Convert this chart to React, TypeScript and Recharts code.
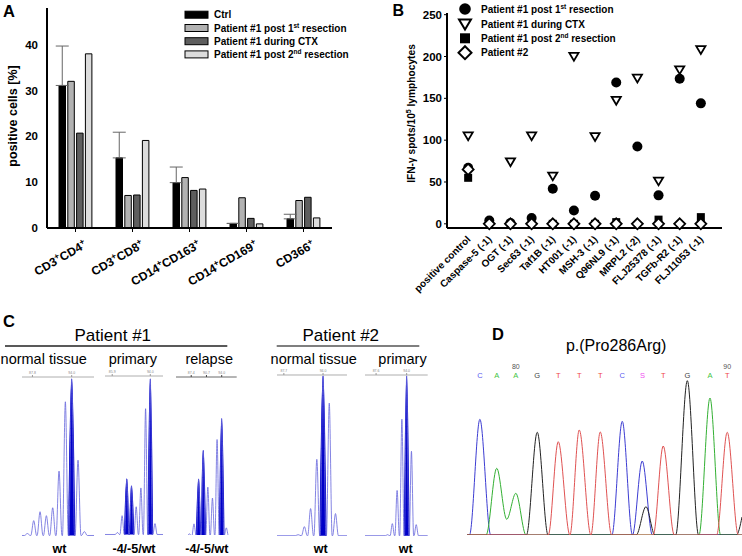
import React from 'react';
import {
  BarChart, Bar, ErrorBar, XAxis, YAxis, ScatterChart, Scatter,
  ComposedChart, Line, Area,
} from 'recharts';

const FONT = 'Arial, "Liberation Sans", Helvetica, sans-serif';

// ---------- A: % positive cells ----------
const A_CATEGORIES = ['CD3+CD4+', 'CD3+CD8+', 'CD14+CD163+', 'CD14+CD169+', 'CD366+'];
const A_CTRL = [31.1, 15.3, 9.9, 1.0, 2.0];
const A_CTRL_SD = [8.6, 5.6, 3.4, 0, 1.0];
const A_POST1 = [32.0, 7.1, 11.0, 6.6, 6.0];
const A_CTX = [20.7, 7.2, 8.2, 2.1, 6.7];
const A_POST2 = [38.0, 19.1, 8.5, 0.9, 2.2];
const A_TICKS = [0, 10, 20, 30, 40];

// ---------- B: IFN-gamma ELISpot ----------
const B_CATEGORIES = [
  'positive control', 'Caspase-5 (-1)', 'OGT (-1)', 'Sec63 (-1)', 'Taf1B (-1)', 'HT001 (-1)',
  'MSH-3 (-1)', 'Q96NL9 (-1)', 'MRPL2 (-2)', 'FLJ25378 (-1)', 'TGFb-R2 (-1)', 'FLJ11053 (-1)',
];
const B_POST1 = [67, 4, 1, 7, 42, 16, 33.5, 169, 92.5, 34, 173.5, 144];
const B_CTX = [105, null, 74, 105, 57, 200, 104, 147.5, 174, 51, 184, 208];
const B_POST2 = [55, null, null, null, 0, 0, 0, 2, null, 5, null, 8];
const B_PATIENT2 = [65, 0, 0, 0, 0, 0, 0, 0, 0, 0, 0, 0];
const B_TICKS = [0, 50, 100, 150, 200, 250];

// ---------- C: fragment analysis (size in bp, peak height) ----------
const C1_SIZE = [87, 88, 89, 90, 91, 92, 93, 94, 95, 96];
const C1_HEIGHT = [2, 15, 24, 20, 28, 65, 135, 158, 76, 4];
const C1_CALLED = [94];
const C2_SIZE = [87, 88, 89, 90, 91, 92, 93, 94, 95];
const C2_HEIGHT = [2, 19, 56, 49, 28, 47, 127, 157, 11];
const C2_CALLED = [89, 90, 94];
const C3_SIZE = [87, 88, 89, 90, 91, 92, 93, 94, 95];
const C3_HEIGHT = [2, 12, 57, 86, 49, 38, 97, 118, 8];
const C3_CALLED = [89, 90, 94];
const C4_SIZE = [90, 91, 92, 93, 94, 95, 96];
const C4_HEIGHT = [1, 9, 27, 76, 159, 132, 22];
const C4_CALLED = [94];
const C5_SIZE = [90, 91, 92, 93, 94, 95, 96];
const C5_HEIGHT = [1, 12, 45, 116, 159, 84, 11];
const C5_CALLED = [94];

// ---------- D: Sanger trace ----------
const D_CALLS = ['C', 'A', 'A', 'G', 'T', 'T', 'T', 'C', 'S', 'T', 'G', 'A', 'T'];
const D_CALL_POS = [78.08, 78.89, 79.81, 80.84, 81.85, 82.86, 83.87, 84.93, 85.9, 86.9, 88.06, 89.15, 89.98];
const D_FIRST_BASE = 78;
const D_TRACE_C = [[77.46, 0], [77.58, 0], [78.08, 115.7], [78.6, 0], [84.43, 0], [84.93, 113.7], [85.42, 0], [85.89, 74], [86.38, 0], [90.69, 0]];
const D_TRACE_A = [[77.46, 0], [78.38, 0], [78.89, 66.7], [79.37, 15.7], [79.81, 41.7], [80.3, 0], [88.62, 0], [89.15, 137], [89.66, 0], [90.69, 0]];
const D_TRACE_G = [[77.46, 0], [80.32, 0], [80.84, 102.7], [81.36, 0], [85.6, 0], [86.07, 28.3], [86.5, 0], [87.5, 0], [88.06, 154.3], [88.6, 0], [90.42, 0], [90.69, 18]];
const D_TRACE_T = [[77.46, 0], [81.37, 0], [81.85, 93.3], [82.41, 0], [82.86, 105], [83.42, 0], [83.87, 103], [84.42, 0], [86.42, 0], [86.9, 89], [87.43, 0], [89.47, 0], [89.98, 102.7], [90.51, 0], [90.69, 0]];

const A_COLORS = { ctrl: '#000000', post1: '#b2b2b2', ctx: '#5e5e5e', post2: '#dcdcdc' };
const CALL_COLORS: Record<string, string> = { C: '#5a5af0', A: '#3fc43f', G: '#444444', T: '#f04848', S: '#f050f0' };

const aData = A_CATEGORIES.map((name, i) => ({
  name,
  ctrl: A_CTRL[i],
  ctrlErr: [0, A_CTRL_SD[i]],
  post1: A_POST1[i],
  ctx: A_CTX[i],
  post2: A_POST2[i],
}));

const toPoints = (vals: (number | null)[]) =>
  vals.map((y, x) => ({ x, y })).filter((p) => p.y !== null);

function ATick(props: any) {
  const { x, y, payload } = props;
  const parts = String(payload.value).split('+');
  const nodes: any[] = [];
  parts.forEach((p, i) => {
    if (i === parts.length - 1) {
      if (p) nodes.push(<tspan key={'e' + i} dy={4.5}>{p}</tspan>);
      return;
    }
    nodes.push(<tspan key={'t' + i} dy={i === 0 ? 0 : 4.5}>{p}</tspan>);
    nodes.push(<tspan key={'s' + i} dy={-4.5} fontSize={8.5}>+</tspan>);
  });
  return (
    <text transform={`translate(${x + 12},${y + 13}) rotate(-30)`} textAnchor="end"
      fontSize={12} fontWeight="bold" fill="#000">
      {nodes}
    </text>
  );
}

function BTick(props: any) {
  const { x, y, payload } = props;
  return (
    <text transform={`translate(${x + 3},${y + 10}) rotate(-45)`} textAnchor="end"
      fontSize={10} fontWeight="bold" fill="#000">
      {B_CATEGORIES[payload.value]}
    </text>
  );
}

const dotShape = (p: any) => <circle cx={p.cx} cy={p.cy} r={5} fill="#000" />;
const triShape = (p: any) => (
  <polygon points={`${p.cx - 4.6},${p.cy - 3.6} ${p.cx + 4.6},${p.cy - 3.6} ${p.cx},${p.cy + 4.2}`}
    fill="#fff" stroke="#000" strokeWidth={1.8} />
);
const sqShape = (p: any) => <rect x={p.cx - 4} y={p.cy - 4} width={8} height={8} fill="#000" />;
const diaShape = (p: any) => (
  <polygon points={`${p.cx},${p.cy - 5.5} ${p.cx + 5.5},${p.cy} ${p.cx},${p.cy + 5.5} ${p.cx - 5.5},${p.cy}`}
    fill="#fff" stroke="#000" strokeWidth={1.8} />
);

function PanelA() {
  return (
    <div style={{ position: 'absolute', left: 0, top: 0 }}>
      <BarChart width={345} height={300} data={aData} margin={{ top: 8, right: 13, bottom: 0, left: 0 }}
        barSize={6.5} barGap={2.3}>
        <XAxis dataKey="name" height={72} interval={0} tick={<ATick />}
          axisLine={{ stroke: '#000', strokeWidth: 2 }} tickLine={{ stroke: '#000' }} tickSize={4} />
        <YAxis width={47} domain={[0, 48]} ticks={A_TICKS} tickLine={false} tickMargin={3}
          axisLine={{ stroke: '#000', strokeWidth: 2 }}
          tick={{ fontSize: 11.5, fontWeight: 'bold', fill: '#000' }} />
        <Bar dataKey="ctrl" fill={A_COLORS.ctrl} stroke="#000" isAnimationActive={false}>
          <ErrorBar dataKey="ctrlErr" width={6.5} stroke="#666" strokeWidth={1} direction="y" />
        </Bar>
        <Bar dataKey="post1" fill={A_COLORS.post1} stroke="#000" isAnimationActive={false} />
        <Bar dataKey="ctx" fill={A_COLORS.ctx} stroke="#000" isAnimationActive={false} />
        <Bar dataKey="post2" fill={A_COLORS.post2} stroke="#000" isAnimationActive={false} />
      </BarChart>
    </div>
  );
}

function PanelB() {
  return (
    <div style={{ position: 'absolute', left: 370, top: 0 }}>
      <ScatterChart width={372} height={300} margin={{ top: 13, right: 20, bottom: 0, left: 0 }}>
        <XAxis type="number" dataKey="x" domain={[-1, 12]} ticks={B_CATEGORIES.map((_, i) => i)} interval={0}
          height={72} tickLine={false} tickSize={0} tick={<BTick />}
          axisLine={{ stroke: '#000', strokeWidth: 2 }} />
        <YAxis type="number" dataKey="y" width={77} domain={[-5, 252]} ticks={B_TICKS}
          tickSize={3} tickMargin={2} tickLine={{ stroke: '#000' }}
          axisLine={{ stroke: '#000', strokeWidth: 2 }}
          tick={{ fontSize: 11.5, fontWeight: 'bold', fill: '#000' }} />
        <Scatter data={toPoints(B_POST1)} shape={dotShape} isAnimationActive={false} />
        <Scatter data={toPoints(B_CTX)} shape={triShape} isAnimationActive={false} />
        <Scatter data={toPoints(B_POST2)} shape={sqShape} isAnimationActive={false} />
        <Scatter data={toPoints(B_PATIENT2)} shape={diaShape} isAnimationActive={false} />
      </ScatterChart>
    </div>
  );
}

const HW = 0.46;

function Electro({ sizes, heights, called, domain, ticks, left, ruler, base, width, rulerColor }: any) {
  const rows: any[] = [{ x: domain[0], trace: 0, fill: null }];
  sizes.forEach((s: number, i: number) => {
    const on = called.includes(s);
    rows.push({ x: s - HW, trace: 0, fill: on ? 0 : null });
    rows.push({ x: s, trace: heights[i], fill: on ? heights[i] : null });
    rows.push({ x: s + HW, trace: 0, fill: on ? 0 : null });
  });
  rows.push({ x: domain[1], trace: 0, fill: null });
  return (
    <div style={{ position: 'absolute', left, top: ruler - 10 }}>
      <ComposedChart width={width} height={base - ruler + 10} data={rows}
        margin={{ top: 0, right: 0, bottom: 0, left: 0 }}>
        <XAxis type="number" dataKey="x" orientation="top" domain={domain} ticks={ticks} interval={0}
          height={10} tickSize={2} tickMargin={1}
          tick={{ fontSize: 3.5, fill: '#888' }} tickFormatter={(v: number) => v.toFixed(1)}
          axisLine={{ stroke: rulerColor, strokeWidth: 0.8 }} tickLine={{ stroke: rulerColor }} />
        <YAxis hide domain={[0, 160]} />
        <Line type="monotone" dataKey="trace" stroke="#6464dc" strokeWidth={0.8} dot={false}
          isAnimationActive={false} />
        <Area type="monotone" dataKey="fill" stroke="#0000c8" strokeWidth={1.4} fill="#0000c8" fillOpacity={1}
          connectNulls={false} dot={false} isAnimationActive={false} />
      </ComposedChart>
    </div>
  );
}

function PanelC() {
  return (
    <>
      <Electro sizes={C1_SIZE} heights={C1_HEIGHT} called={C1_CALLED} domain={[86.15, 97.57]} ticks={[87.8, 94]}
        left={22} ruler={377} base={535.5} width={72.3} rulerColor="#999" />
      <Electro sizes={C2_SIZE} heights={C2_HEIGHT} called={C2_CALLED} domain={[84.36, 96.77]} ticks={[85.9, 94]}
        left={105} ruler={376} base={534.5} width={58.3} rulerColor="#999" />
      <Electro sizes={C3_SIZE} heights={C3_HEIGHT} called={C3_CALLED} domain={[84.1, 97.25]} ticks={[87.4, 90.7, 94]}
        left={176} ruler={376.7} base={535.5} width={60.7} rulerColor="#444" />
      <Electro sizes={C4_SIZE} heights={C4_HEIGHT} called={C4_CALLED} domain={[86.6, 97.85]} ticks={[87.7, 94]}
        left={277.3} ruler={375} base={535.7} width={70} rulerColor="#999" />
      <Electro sizes={C5_SIZE} heights={C5_HEIGHT} called={C5_CALLED} domain={[85.28, 98.4]} ticks={[87.6, 94]}
        left={365} ruler={375} base={535.7} width={62.7} rulerColor="#999" />
    </>
  );
}

function DTick(props: any) {
  const { x, payload } = props;
  const i = D_CALL_POS.indexOf(payload.value);
  const call = D_CALLS[i];
  const num = D_FIRST_BASE + i;
  return (
    <g>
      {num % 10 === 0 && (
        <text x={x} y={28.5} textAnchor="middle" fontSize={7} fill="#555">{num}</text>
      )}
      <text x={x} y={37.8} textAnchor="middle" fontSize={7.5} fill={CALL_COLORS[call]}>{call}</text>
    </g>
  );
}

const dRows = [
  ...D_TRACE_C.map(([x, y]) => ({ x, c: y })),
  ...D_TRACE_A.map(([x, y]) => ({ x, a: y })),
  ...D_TRACE_G.map(([x, y]) => ({ x, g: y })),
  ...D_TRACE_T.map(([x, y]) => ({ x, t: y })),
];

function PanelD() {
  return (
    <div style={{ position: 'absolute', left: 467, top: 340 }}>
      <ComposedChart width={275} height={195} data={dRows} margin={{ top: 0, right: 0, bottom: 0, left: 0 }}>
        <XAxis type="number" dataKey="x" orientation="top" domain={[77.46, 90.69]} ticks={D_CALL_POS}
          interval={0} height={35} axisLine={false} tickLine={false} tick={<DTick />} />
        <YAxis hide domain={[0, 160]} />
        <Line type="monotone" dataKey="c" stroke="#3c3cd2" strokeWidth={1} dot={false} connectNulls isAnimationActive={false} />
        <Line type="monotone" dataKey="a" stroke="#33b033" strokeWidth={1} dot={false} connectNulls isAnimationActive={false} />
        <Line type="monotone" dataKey="g" stroke="#222222" strokeWidth={1} dot={false} connectNulls isAnimationActive={false} />
        <Line type="monotone" dataKey="t" stroke="#e05252" strokeWidth={1} dot={false} connectNulls isAnimationActive={false} />
      </ComposedChart>
    </div>
  );
}

function Sup({ children }: any) {
  return (
    <>
      <tspan dy={-4} fontSize={6.5}>{children}</tspan>
      <tspan dy={4}> </tspan>
    </>
  );
}

function Overlay() {
  const aRows = [
    { label: <>Ctrl</>, color: A_COLORS.ctrl },
    { label: <>Patient #1 post 1<Sup>st</Sup>resection</>, color: A_COLORS.post1 },
    { label: <>Patient #1 during CTX</>, color: A_COLORS.ctx },
    { label: <>Patient #1 post 2<Sup>nd</Sup>resection</>, color: A_COLORS.post2 },
  ];
  const aY = [14.7, 28, 41.2, 54.4];
  const bRows = [
    { label: <>Patient #1 post 1<Sup>st</Sup>resection</>, shape: 'dot' },
    { label: <>Patient #1 during CTX</>, shape: 'tri' },
    { label: <>Patient #1 post 2<Sup>nd</Sup>resection</>, shape: 'sq' },
    { label: <>Patient #2</>, shape: 'dia' },
  ];
  const bY = [9, 24, 38.3, 52.7];
  const bx = 465;
  return (
    <svg width={742} height={556} style={{ position: 'absolute', left: 0, top: 0, pointerEvents: 'none' }}
      fontFamily={FONT}>
      {/* panel letters */}
      <text x={3} y={16.7} fontSize={16.5} fontWeight="bold">A</text>
      <text x={392.5} y={16} fontSize={16} fontWeight="bold">B</text>
      <text x={3} y={326.7} fontSize={16.5} fontWeight="bold">C</text>
      <text x={492} y={340} fontSize={16.5} fontWeight="bold">D</text>

      {/* A axis title + legend */}
      <text transform="translate(16.5,116) rotate(-90)" textAnchor="middle" fontSize={12.5} fontWeight="bold">
        positive cells [%]
      </text>
      {aRows.map((r, i) => (
        <g key={i}>
          <rect x={185} y={aY[i] - 3.5} width={23} height={7} fill={r.color} stroke="#000" strokeWidth={1} />
          <text x={214} y={aY[i] + 3.6} fontSize={10} fontWeight="bold">{r.label}</text>
        </g>
      ))}

      {/* B axis title + legend */}
      <text transform="translate(414.5,113.5) rotate(-90)" textAnchor="middle" fontSize={10.2} fontWeight="bold">
        IFN-γ spots/10<tspan dy={-4} fontSize={7}>5</tspan><tspan dy={4}> lymphocytes</tspan>
      </text>
      {bRows.map((r, i) => {
        const y = bY[i];
        let m: any = null;
        if (r.shape === 'dot') m = <circle cx={bx} cy={y} r={5.8} fill="#000" />;
        if (r.shape === 'tri') m = <polygon points={`${bx - 6},${y - 4.6} ${bx + 6},${y - 4.6} ${bx},${y + 5.6}`} fill="#fff" stroke="#000" strokeWidth={2} />;
        if (r.shape === 'sq') m = <rect x={bx - 5} y={y - 5} width={10} height={10} fill="#000" />;
        if (r.shape === 'dia') m = <polygon points={`${bx},${y - 6.5} ${bx + 6.5},${y} ${bx},${y + 6.5} ${bx - 6.5},${y}`} fill="#fff" stroke="#000" strokeWidth={2} />;
        return (
          <g key={i}>
            {m}
            <text x={481} y={y + 3.6} fontSize={10} fontWeight="bold">{r.label}</text>
          </g>
        );
      })}

      {/* C headings */}
      <text x={112.8} y={341.3} textAnchor="middle" fontSize={17}>Patient #1</text>
      <line x1={5} x2={227.3} y1={346} y2={346} stroke="#222" strokeWidth={1.3} />
      <text x={340.8} y={341.3} textAnchor="middle" fontSize={17}>Patient #2</text>
      <line x1={276.7} x2={419.3} y1={346} y2={346} stroke="#555" strokeWidth={1.3} />
      <text x={43.7} y={364} textAnchor="middle" fontSize={14.5}>normal tissue</text>
      <text x={132.8} y={364} textAnchor="middle" fontSize={14.5}>primary</text>
      <text x={209.2} y={364} textAnchor="middle" fontSize={14.5}>relapse</text>
      <text x={313.7} y={364} textAnchor="middle" fontSize={14.5}>normal tissue</text>
      <text x={402.5} y={364} textAnchor="middle" fontSize={14.5}>primary</text>
      <text x={59.5} y={553} textAnchor="middle" fontSize={12.5} fontWeight="bold">wt</text>
      <text x={134} y={553} textAnchor="middle" fontSize={12.5} fontWeight="bold">-4/-5/wt</text>
      <text x={206.8} y={553} textAnchor="middle" fontSize={12.5} fontWeight="bold">-4/-5/wt</text>
      <text x={320.8} y={553} textAnchor="middle" fontSize={12.5} fontWeight="bold">wt</text>
      <text x={405.8} y={553} textAnchor="middle" fontSize={12.5} fontWeight="bold">wt</text>

      {/* D title */}
      <text x={616.2} y={351} textAnchor="middle" fontSize={16}>p.(Pro286Arg)</text>
    </svg>
  );
}

export default function App() {
  return (
    <div style={{
      position: 'absolute', left: 0, top: 0, width: 742, height: 556,
      background: '#fff', fontFamily: FONT, overflow: 'hidden',
    }}>
      <PanelA />
      <PanelB />
      <PanelC />
      <PanelD />
      <Overlay />
    </div>
  );
}
